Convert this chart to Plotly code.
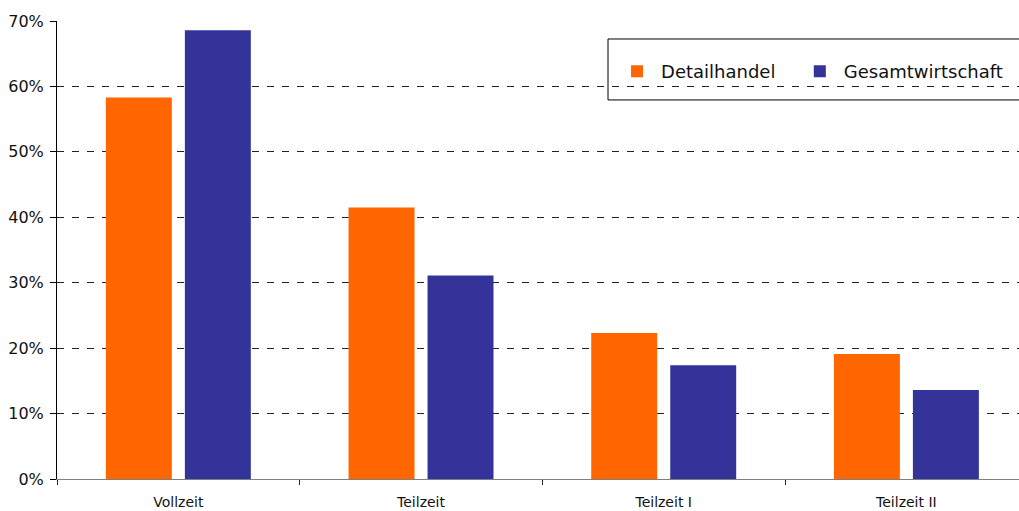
import plotly.graph_objects as go

categories = ["Vollzeit", "Teilzeit", "Teilzeit I", "Teilzeit II"]
detailhandel = [0.583, 0.415, 0.223, 0.191]
gesamtwirtschaft = [0.686, 0.311, 0.174, 0.136]
y_ticks = [0, 0.1, 0.2, 0.3, 0.4, 0.5, 0.6, 0.7]
y_tick_labels = ["0%", "10%", "20%", "30%", "40%", "50%", "60%", "70%"]

font_family = "DejaVu Sans"

fig = go.Figure()
fig.add_trace(go.Bar(x=categories, y=detailhandel, name="Detailhandel",
                     marker=dict(color="#FF6600", line=dict(width=0)), legend="legend"))
fig.add_trace(go.Bar(x=categories, y=gesamtwirtschaft, name="Gesamtwirtschaft",
                     marker=dict(color="#333399", line=dict(width=0)), legend="legend2"))

legend_common = dict(orientation="h", yanchor="top", xanchor="left", y=0.93,
                     bgcolor="rgba(0,0,0,0)", borderwidth=0, itemwidth=38,
                     font=dict(size=18, family=font_family, color="#111111"))

fig.update_layout(
    width=1019, height=511,
    margin=dict(l=57, r=0, t=21, b=32, autoexpand=False),
    paper_bgcolor="white", plot_bgcolor="white",
    barmode="group", bargap=0.349, bargroupgap=0.165,
    font=dict(family=font_family, color="#111111"),
    showlegend=True,
    legend=dict(x=0.578, **legend_common),
    legend2=dict(x=0.768, **legend_common),
    xaxis=dict(type="category", range=[-0.5, 3.464], showgrid=False,
               showline=True, linecolor="#808080", linewidth=1,
               ticks="outside", tickson="boundaries", ticklen=5, tickcolor="#222222",
               tickfont=dict(size=14, family=font_family, color="#111111"),
               ticklabelstandoff=10,
               fixedrange=True),
    yaxis=dict(range=[0, 0.7], tickvals=y_ticks, ticktext=y_tick_labels,
               showgrid=True, gridcolor="#222222", gridwidth=1, griddash="7px,8px",
               showline=True, linecolor="#000000", linewidth=1,
               ticks="outside", ticklen=6, tickcolor="#000000",
               tickfont=dict(size=16, family=font_family, color="#111111"),
               ticklabelstandoff=3,
               zeroline=False, fixedrange=True),
    shapes=[dict(type="rect", xref="paper", yref="paper",
                 x0=(608 - 57) / 962, x1=1.002,
                 y0=1 - (100 - 21) / 458.3, y1=1 - (39 - 21) / 458.3,
                 line=dict(color="#000000", width=1), fillcolor="white", layer="below")],
)

fig.write_html("out.html", config={"displayModeBar": False},
               post_script="document.body.style.margin='0';document.body.style.overflow='hidden';")
